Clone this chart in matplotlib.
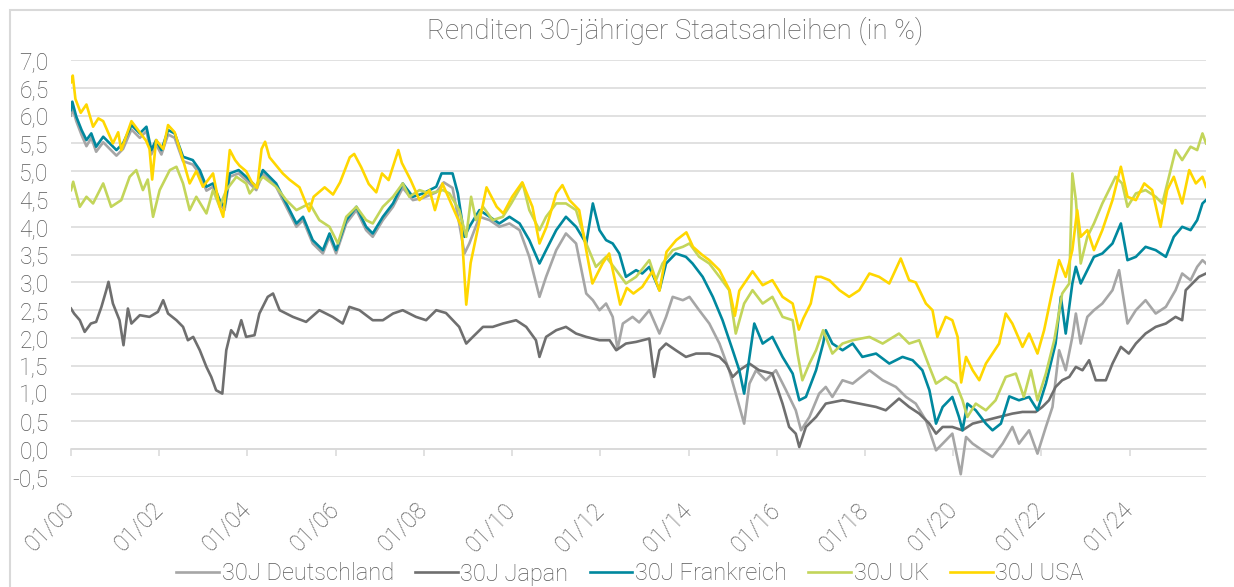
import numpy as np
import matplotlib
matplotlib.use("Agg")
import matplotlib.pyplot as plt
from matplotlib.patches import Rectangle

# ------------------------------------------------------------
# Data (decimal year, yield in %)
# ------------------------------------------------------------
de_years = [2000.00, 2000.03, 2000.12, 2000.24, 2000.35, 2000.46, 2000.57, 2000.73, 2000.88, 2001.03,
            2001.18, 2001.37, 2001.56, 2001.71, 2001.82, 2001.93, 2002.05, 2002.20, 2002.35, 2002.54,
            2002.76, 2002.92, 2003.07, 2003.22, 2003.37, 2003.48, 2003.60, 2003.80, 2003.97, 2004.20,
            2004.35, 2004.65, 2004.88, 2005.11, 2005.26, 2005.48, 2005.71, 2005.86, 2006.01, 2006.24,
            2006.47, 2006.69, 2006.84, 2007.07, 2007.30, 2007.52, 2007.75, 2007.98, 2008.28, 2008.45,
            2008.65, 2008.80, 2008.92, 2009.03, 2009.26, 2009.49, 2009.71, 2009.94, 2010.17, 2010.39,
            2010.62, 2010.77, 2011.00, 2011.22, 2011.45, 2011.68, 2011.83, 2011.98, 2012.13, 2012.28,
            2012.39, 2012.51, 2012.73, 2012.88, 2013.11, 2013.34, 2013.49, 2013.64, 2013.87, 2014.02,
            2014.24, 2014.47, 2014.70, 2014.92, 2015.07, 2015.26, 2015.38, 2015.53, 2015.75, 2015.98,
            2016.21, 2016.43, 2016.55, 2016.74, 2016.96, 2017.11, 2017.26, 2017.49, 2017.72, 2018.10,
            2018.40, 2018.70, 2018.93, 2019.15, 2019.38, 2019.61, 2019.76, 2019.98, 2020.17, 2020.29,
            2020.44, 2020.66, 2020.89, 2021.12, 2021.34, 2021.49, 2021.72, 2021.91, 2022.10, 2022.25,
            2022.40, 2022.55, 2022.70, 2022.78, 2022.89, 2023.04, 2023.19, 2023.38, 2023.61, 2023.76,
            2023.95, 2024.14, 2024.36, 2024.59, 2024.82, 2025.04, 2025.19, 2025.38, 2025.53, 2025.65,
            2025.73]
de_vals = [6.00, 6.15, 5.90, 5.65, 5.45, 5.60, 5.35, 5.52, 5.40, 5.28,
           5.40, 5.75, 5.60, 5.72, 5.30, 5.48, 5.30, 5.66, 5.60, 5.18,
           5.12, 4.95, 4.65, 4.72, 4.42, 4.30, 4.90, 4.96, 4.84, 4.66,
           4.96, 4.72, 4.36, 4.00, 4.12, 3.70, 3.52, 3.82, 3.52, 4.06,
           4.30, 3.94, 3.82, 4.12, 4.36, 4.70, 4.48, 4.52, 4.62, 4.80,
           4.70, 4.06, 3.52, 3.70, 4.18, 4.12, 4.00, 4.06, 3.94, 3.46,
           2.74, 3.10, 3.58, 3.88, 3.70, 2.80, 2.68, 2.50, 2.62, 2.38,
           1.80, 2.26, 2.38, 2.28, 2.50, 2.08, 2.38, 2.74, 2.68, 2.74,
           2.50, 2.26, 1.90, 1.42, 1.00, 0.46, 1.18, 1.42, 1.24, 1.42,
           1.06, 0.70, 0.34, 0.58, 1.00, 1.12, 0.94, 1.24, 1.18, 1.42,
           1.24, 1.12, 0.94, 0.82, 0.52, -0.02, 0.10, 0.28, -0.45, 0.22,
           0.10, -0.02, -0.14, 0.10, 0.40, 0.10, 0.34, -0.08, 0.40, 0.76,
           1.78, 1.42, 2.02, 2.44, 1.90, 2.38, 2.50, 2.62, 2.86, 3.22,
           2.26, 2.50, 2.68, 2.44, 2.56, 2.86, 3.16, 3.04, 3.28, 3.40,
           3.34]

jp_years = [2000.00, 2000.07, 2000.20, 2000.31, 2000.45, 2000.57, 2000.69, 2000.80, 2000.85, 2000.95,
            2001.10, 2001.19, 2001.29, 2001.37, 2001.56, 2001.78, 2001.97, 2002.09, 2002.20, 2002.39,
            2002.54, 2002.65, 2002.77, 2002.92, 2003.07, 2003.18, 2003.29, 2003.43, 2003.52, 2003.63,
            2003.75, 2003.86, 2003.97, 2004.16, 2004.27, 2004.46, 2004.58, 2004.73, 2005.03, 2005.33,
            2005.63, 2005.93, 2006.16, 2006.31, 2006.54, 2006.84, 2007.07, 2007.30, 2007.52, 2007.82,
            2008.05, 2008.28, 2008.50, 2008.80, 2008.96, 2009.11, 2009.34, 2009.56, 2009.79, 2010.09,
            2010.32, 2010.54, 2010.62, 2010.77, 2011.00, 2011.22, 2011.45, 2011.68, 2011.98, 2012.21,
            2012.36, 2012.58, 2012.81, 2013.11, 2013.22, 2013.34, 2013.49, 2013.71, 2013.94, 2014.17,
            2014.47, 2014.70, 2014.85, 2015.00, 2015.15, 2015.38, 2015.60, 2015.90, 2016.13, 2016.28,
            2016.43, 2016.51, 2016.66, 2016.89, 2017.11, 2017.49, 2017.87, 2018.25, 2018.47, 2018.77,
            2019.00, 2019.23, 2019.46, 2019.61, 2019.76, 2019.98, 2020.21, 2020.44, 2020.74, 2021.04,
            2021.34, 2021.57, 2021.87, 2022.02, 2022.17, 2022.32, 2022.47, 2022.63, 2022.78, 2022.93,
            2023.08, 2023.23, 2023.46, 2023.61, 2023.80, 2023.98, 2024.14, 2024.36, 2024.59, 2024.82,
            2025.04, 2025.19, 2025.27, 2025.42, 2025.57, 2025.73]
jp_vals = [2.53, 2.44, 2.32, 2.11, 2.26, 2.29, 2.56, 2.86, 3.01, 2.62,
           2.32, 1.87, 2.53, 2.26, 2.41, 2.38, 2.47, 2.68, 2.44, 2.32,
           2.20, 1.96, 2.02, 1.78, 1.48, 1.30, 1.06, 1.00, 1.78, 2.14,
           2.02, 2.32, 2.02, 2.05, 2.44, 2.74, 2.80, 2.50, 2.38, 2.29,
           2.50, 2.38, 2.26, 2.56, 2.50, 2.32, 2.32, 2.44, 2.50, 2.38,
           2.32, 2.50, 2.45, 2.20, 1.90, 2.02, 2.20, 2.20, 2.26, 2.32,
           2.20, 1.96, 1.66, 2.02, 2.14, 2.20, 2.08, 2.02, 1.96, 1.96,
           1.78, 1.90, 1.93, 1.99, 1.30, 1.78, 1.90, 1.78, 1.66, 1.72,
           1.72, 1.66, 1.54, 1.30, 1.42, 1.54, 1.42, 1.36, 0.82, 0.40,
           0.28, 0.04, 0.40, 0.58, 0.82, 0.88, 0.82, 0.76, 0.70, 0.91,
           0.76, 0.64, 0.46, 0.28, 0.40, 0.40, 0.34, 0.46, 0.52, 0.58,
           0.64, 0.67, 0.67, 0.76, 0.88, 1.12, 1.24, 1.30, 1.48, 1.42,
           1.60, 1.24, 1.24, 1.54, 1.84, 1.72, 1.90, 2.08, 2.20, 2.26,
           2.38, 2.32, 2.86, 2.98, 3.10, 3.16]

fr_years = [2000.00, 2000.03, 2000.12, 2000.24, 2000.35, 2000.46, 2000.57, 2000.73, 2000.88, 2001.03,
            2001.18, 2001.37, 2001.56, 2001.71, 2001.82, 2001.93, 2002.05, 2002.20, 2002.35, 2002.54,
            2002.76, 2002.92, 2003.07, 2003.22, 2003.37, 2003.48, 2003.60, 2003.80, 2003.97, 2004.20,
            2004.35, 2004.65, 2004.88, 2005.11, 2005.26, 2005.48, 2005.71, 2005.86, 2006.01, 2006.24,
            2006.47, 2006.69, 2006.84, 2007.07, 2007.30, 2007.52, 2007.75, 2007.98, 2008.28, 2008.40,
            2008.65, 2008.77, 2008.92, 2009.03, 2009.26, 2009.49, 2009.71, 2009.94, 2010.17, 2010.39,
            2010.62, 2010.77, 2011.00, 2011.22, 2011.45, 2011.68, 2011.83, 2011.98, 2012.13, 2012.28,
            2012.43, 2012.58, 2012.81, 2012.95, 2013.11, 2013.34, 2013.49, 2013.71, 2013.94, 2014.09,
            2014.32, 2014.55, 2014.77, 2015.00, 2015.15, 2015.26, 2015.38, 2015.49, 2015.68, 2015.90,
            2016.13, 2016.36, 2016.51, 2016.66, 2016.89, 2017.05, 2017.11, 2017.26, 2017.49, 2017.72,
            2017.94, 2018.25, 2018.55, 2018.85, 2019.08, 2019.30, 2019.46, 2019.61, 2019.76, 2019.98,
            2020.13, 2020.21, 2020.32, 2020.51, 2020.74, 2020.89, 2021.08, 2021.27, 2021.49, 2021.72,
            2021.91, 2022.10, 2022.32, 2022.44, 2022.55, 2022.70, 2022.78, 2022.89, 2023.04, 2023.19,
            2023.38, 2023.61, 2023.80, 2023.95, 2024.14, 2024.36, 2024.59, 2024.82, 2025.00, 2025.19,
            2025.38, 2025.53, 2025.65, 2025.73]
fr_vals = [6.10, 6.25, 5.98, 5.74, 5.56, 5.68, 5.44, 5.62, 5.50, 5.38,
           5.50, 5.83, 5.68, 5.80, 5.38, 5.56, 5.38, 5.74, 5.68, 5.26,
           5.20, 5.02, 4.72, 4.78, 4.48, 4.36, 4.96, 5.02, 4.90, 4.72,
           5.02, 4.78, 4.42, 4.06, 4.18, 3.76, 3.58, 3.88, 3.58, 4.12,
           4.36, 4.00, 3.88, 4.18, 4.42, 4.78, 4.54, 4.60, 4.72, 4.96,
           4.96, 4.60, 3.82, 4.00, 4.30, 4.18, 4.06, 4.18, 4.06, 3.76,
           3.34, 3.58, 3.94, 4.18, 4.00, 3.70, 4.42, 3.94, 3.76, 3.70,
           3.52, 3.10, 3.22, 3.16, 3.28, 2.86, 3.34, 3.52, 3.46, 3.34,
           3.10, 2.74, 2.32, 1.78, 1.42, 1.00, 1.66, 2.26, 1.90, 2.02,
           1.66, 1.36, 0.88, 0.94, 1.42, 1.90, 2.14, 1.90, 1.78, 1.90,
           1.66, 1.72, 1.54, 1.66, 1.60, 1.42, 1.06, 0.46, 0.76, 0.94,
           0.58, 0.34, 0.82, 0.70, 0.46, 0.34, 0.46, 0.95, 0.88, 0.94,
           0.70, 1.18, 1.90, 2.74, 2.08, 2.98, 3.28, 2.98, 3.22, 3.46,
           3.52, 3.70, 4.06, 3.40, 3.46, 3.64, 3.58, 3.46, 3.82, 4.00,
           3.94, 4.12, 4.42, 4.48]

uk_years = [2000.00, 2000.05, 2000.20, 2000.35, 2000.50, 2000.73, 2000.91, 2001.14, 2001.33, 2001.48,
            2001.63, 2001.74, 2001.86, 2002.01, 2002.24, 2002.39, 2002.54, 2002.69, 2002.84, 2003.07,
            2003.22, 2003.37, 2003.52, 2003.75, 2003.97, 2004.05, 2004.35, 2004.65, 2004.88, 2005.11,
            2005.41, 2005.63, 2005.86, 2006.05, 2006.24, 2006.47, 2006.69, 2006.84, 2007.07, 2007.30,
            2007.52, 2007.67, 2007.90, 2008.13, 2008.43, 2008.58, 2008.80, 2008.96, 2009.07, 2009.18,
            2009.34, 2009.56, 2009.79, 2009.98, 2010.24, 2010.39, 2010.62, 2010.77, 2011.00, 2011.22,
            2011.45, 2011.68, 2011.90, 2012.13, 2012.36, 2012.58, 2012.81, 2013.11, 2013.26, 2013.41,
            2013.64, 2013.87, 2014.02, 2014.24, 2014.47, 2014.70, 2014.92, 2015.07, 2015.26, 2015.45,
            2015.68, 2015.90, 2016.13, 2016.36, 2016.47, 2016.58, 2016.74, 2016.89, 2017.05, 2017.26,
            2017.49, 2017.72, 2018.10, 2018.40, 2018.77, 2019.00, 2019.23, 2019.46, 2019.61, 2019.83,
            2020.06, 2020.21, 2020.32, 2020.51, 2020.74, 2020.96, 2021.19, 2021.42, 2021.60, 2021.76,
            2021.91, 2022.10, 2022.29, 2022.47, 2022.63, 2022.70, 2022.78, 2022.89, 2023.04, 2023.19,
            2023.38, 2023.53, 2023.68, 2023.83, 2023.95, 2024.14, 2024.36, 2024.59, 2024.74, 2024.89,
            2025.04, 2025.19, 2025.38, 2025.53, 2025.65, 2025.73]
uk_vals = [4.66, 4.81, 4.36, 4.54, 4.42, 4.78, 4.36, 4.48, 4.90, 5.02,
           4.66, 4.85, 4.18, 4.66, 5.02, 5.08, 4.78, 4.30, 4.54, 4.24,
           4.66, 4.36, 4.66, 4.90, 4.78, 4.60, 4.90, 4.72, 4.48, 4.30,
           4.42, 4.12, 4.00, 3.70, 4.18, 4.36, 4.12, 4.06, 4.36, 4.54,
           4.78, 4.54, 4.66, 4.60, 4.66, 4.60, 4.30, 3.82, 4.54, 4.12,
           4.36, 4.12, 4.18, 4.42, 4.78, 4.30, 3.94, 4.18, 4.42, 4.42,
           4.30, 3.70, 3.28, 3.46, 3.22, 2.98, 3.10, 3.40, 3.04, 3.34,
           3.58, 3.64, 3.70, 3.46, 3.34, 3.10, 2.86, 2.08, 2.62, 2.86,
           2.62, 2.74, 2.38, 2.32, 1.72, 1.24, 1.54, 1.78, 2.14, 1.72,
           1.90, 1.96, 2.02, 1.90, 2.08, 1.90, 1.96, 1.48, 1.18, 1.30,
           1.18, 0.88, 0.58, 0.82, 0.70, 0.88, 1.30, 1.36, 0.94, 1.42,
           0.88, 1.36, 1.96, 2.80, 2.98, 4.96, 4.48, 3.34, 3.82, 4.06,
           4.42, 4.66, 4.90, 4.78, 4.36, 4.60, 4.66, 4.54, 4.42, 4.90,
           5.38, 5.20, 5.44, 5.38, 5.68, 5.50]

us_years = [2000.00, 2000.04, 2000.10, 2000.22, 2000.35, 2000.50, 2000.62, 2000.73, 2000.95, 2001.07,
            2001.14, 2001.37, 2001.56, 2001.70, 2001.78, 2001.84, 2001.93, 2002.09, 2002.20, 2002.35,
            2002.54, 2002.69, 2002.84, 2002.99, 2003.22, 2003.37, 2003.45, 2003.60, 2003.72, 2003.82,
            2003.97, 2004.10, 2004.22, 2004.32, 2004.40, 2004.50, 2004.80, 2004.95, 2005.18, 2005.40,
            2005.50, 2005.75, 2005.94, 2006.10, 2006.32, 2006.42, 2006.58, 2006.75, 2006.92, 2007.05,
            2007.20, 2007.42, 2007.50, 2007.70, 2007.90, 2008.13, 2008.25, 2008.42, 2008.65, 2008.85,
            2008.96, 2009.06, 2009.20, 2009.42, 2009.65, 2009.80, 2010.00, 2010.23, 2010.46, 2010.62,
            2010.78, 2011.00, 2011.14, 2011.30, 2011.52, 2011.68, 2011.82, 2012.05, 2012.20, 2012.45,
            2012.60, 2012.75, 2012.95, 2013.18, 2013.34, 2013.50, 2013.72, 2013.95, 2014.10, 2014.30,
            2014.47, 2014.70, 2014.93, 2015.05, 2015.15, 2015.45, 2015.68, 2015.90, 2016.13, 2016.36,
            2016.50, 2016.60, 2016.77, 2016.89, 2017.00, 2017.19, 2017.42, 2017.64, 2017.87, 2018.10,
            2018.32, 2018.55, 2018.81, 2019.00, 2019.15, 2019.38, 2019.53, 2019.64, 2019.83, 2019.98,
            2020.10, 2020.18, 2020.29, 2020.44, 2020.59, 2020.74, 2020.89, 2021.04, 2021.19, 2021.34,
            2021.57, 2021.72, 2021.91, 2022.06, 2022.25, 2022.40, 2022.55, 2022.70, 2022.81, 2022.89,
            2023.04, 2023.19, 2023.38, 2023.61, 2023.80, 2023.95, 2024.14, 2024.33, 2024.51, 2024.70,
            2024.85, 2025.00, 2025.19, 2025.35, 2025.50, 2025.65, 2025.73]
us_vals = [6.60, 6.72, 6.30, 6.05, 6.20, 5.80, 5.95, 5.90, 5.50, 5.70,
           5.38, 5.90, 5.70, 5.55, 5.40, 4.85, 5.56, 5.40, 5.83, 5.70,
           5.20, 4.78, 5.00, 4.72, 4.96, 4.36, 4.18, 5.38, 5.20, 5.10,
           5.00, 4.80, 4.70, 5.40, 5.53, 5.25, 4.96, 4.85, 4.71, 4.28,
           4.54, 4.71, 4.58, 4.80, 5.25, 5.31, 5.07, 4.77, 4.62, 4.96,
           4.84, 5.38, 5.15, 4.84, 4.48, 4.66, 4.30, 4.78, 4.36, 4.00,
           2.60, 3.35, 3.88, 4.71, 4.36, 4.24, 4.54, 4.80, 4.36, 3.70,
           4.00, 4.60, 4.75, 4.48, 4.30, 3.58, 2.98, 3.34, 3.52, 2.60,
           2.90, 2.80, 2.92, 3.20, 2.85, 3.55, 3.76, 3.90, 3.64, 3.50,
           3.40, 3.22, 2.86, 2.40, 2.85, 3.20, 2.95, 3.04, 2.74, 2.62,
           2.15, 2.35, 2.62, 3.10, 3.10, 3.04, 2.86, 2.74, 2.86, 3.16,
           3.10, 2.98, 3.43, 3.04, 3.00, 2.62, 2.50, 2.02, 2.38, 2.32,
           2.02, 1.20, 1.66, 1.42, 1.24, 1.54, 1.72, 1.90, 2.44, 2.26,
           1.84, 2.08, 1.72, 2.14, 2.86, 3.40, 3.10, 3.58, 4.30, 3.82,
           3.94, 3.58, 3.94, 4.48, 5.08, 4.54, 4.48, 4.78, 4.66, 4.00,
           4.66, 4.90, 4.42, 5.02, 4.78, 4.90, 4.72]

labels = ["30J Deutschland", "30J Japan", "30J Frankreich", "30J UK", "30J USA"]
colors = ["#A6A6A6", "#6F6F6F", "#00889E", "#C3D55A", "#FFD700"]
tick_years = list(range(2000, 2025, 2))
tick_labels = [f"01/{y % 100:02d}" for y in tick_years]
y_ticks = np.arange(-0.5, 7.01, 0.5)

W, H = 1234, 587
text_col = "#595959"
grid_col = "#D9D9D9"

plt.rcParams['font.family'] = ['Roboto', 'DejaVu Sans']
plt.rcParams['font.weight'] = 'light'

fig = plt.figure(figsize=(W / 100, H / 100), dpi=100)
ax = fig.add_axes([71 / W, 1 - 477 / H, (1206 - 71) / W, (477 - 60) / H])

series = [
    (de_years, de_vals),
    (jp_years, jp_vals),
    (fr_years, fr_vals),
    (uk_years, uk_vals),
    (us_years, us_vals),
]
for (yrs, vals), col, lab in zip(series, colors, labels):
    ax.plot(yrs, vals, color=col, lw=1.9, label=lab, solid_joinstyle="round")

ax.set_xlim(2000, 2025.73)
ax.set_ylim(-0.5, 7.0)
ax.set_yticks(y_ticks)
ax.set_yticklabels([f"{v:.1f}".replace(".", ",").replace("-0,0", "0,0") for v in y_ticks])
ax.grid(axis="y", color=grid_col, lw=1.1)
ax.set_axisbelow(True)
for s in ax.spines.values():
    s.set_visible(False)
ax.tick_params(axis="y", length=0, pad=16, labelsize=16.5, labelcolor=text_col)

ax.set_xticks(tick_years)
ax.set_xticklabels(tick_labels)
ax.tick_params(axis="x", length=0, pad=21, labelsize=16.5, labelcolor=text_col)
for lab in ax.get_xticklabels():
    lab.set_rotation(45)
    lab.set_ha("right")
    lab.set_va("center")
    lab.set_rotation_mode("anchor")

# category axis crosses at 0 with small tick marks
zero_frac = (0 - (-0.5)) / 7.5
sec = ax.secondary_xaxis(zero_frac)
sec.set_xticks(tick_years)
sec.set_xticklabels([])
sec.tick_params(axis="x", direction="out", length=5, width=1.1, color=grid_col)
sec.spines["bottom"].set_color(grid_col)
sec.spines["bottom"].set_linewidth(1.1)

fig.text(675 / W, 1 - 31 / H, "Renditen 30-jähriger Staatsanleihen (in %)",
         ha="center", va="center", fontsize=20, color="#606060", fontweight="light")

handles, labs = ax.get_legend_handles_labels()
fig.legend(handles, labs, loc="center", bbox_to_anchor=(630 / W, 1 - 574 / H), ncol=5,
           frameon=False, prop={"size": 17, "weight": "light"}, handlelength=1.8,
           handletextpad=0.12, columnspacing=0.9, labelcolor=text_col)

# chart border (only top and left edges fall inside the image)
fig.patches.append(Rectangle((10 / W, -0.1), 1.2, 1.1 - 10 / H,
                             transform=fig.transFigure, fill=False,
                             edgecolor=grid_col, lw=1.5))

fig.savefig("out.png", dpi=100)
